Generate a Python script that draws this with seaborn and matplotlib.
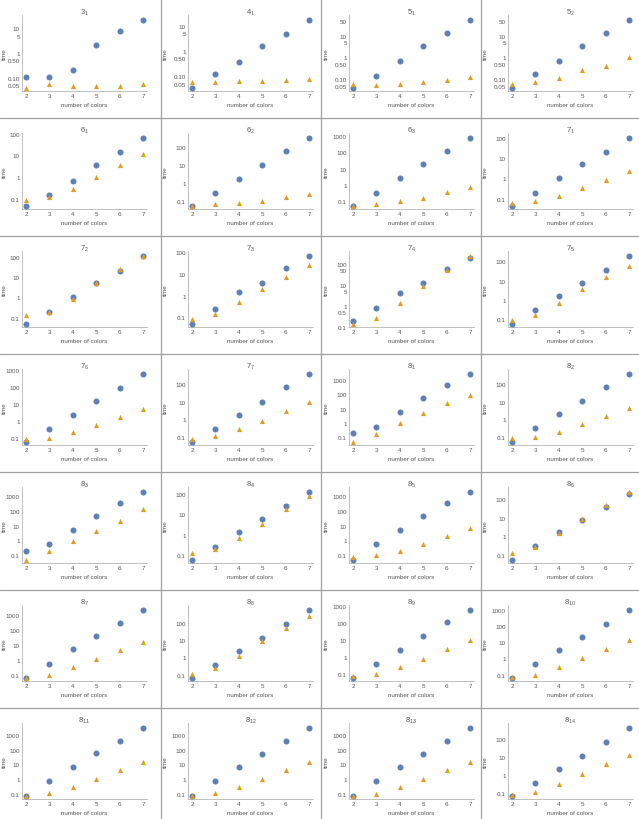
import numpy as np
import pandas as pd
import seaborn as sns
import matplotlib.pyplot as plt
from matplotlib.lines import Line2D
from matplotlib.ticker import FixedLocator, LogLocator, MultipleLocator, NullFormatter

# data: time vs number of colors, two methods per knot
colors = [2, 3, 4, 5, 6, 7]

knots = ["3_1", "4_1", "5_1", "5_2",
         "6_1", "6_2", "6_3", "7_1",
         "7_2", "7_3", "7_4", "7_5",
         "7_6", "7_7", "8_1", "8_2",
         "8_3", "8_4", "8_5", "8_6",
         "8_7", "8_8", "8_9", "8_{10}",
         "8_{11}", "8_{12}", "8_{13}", "8_{14}"]

blue_times = [
    [0.11, 0.105, 0.2, 2.2, 7.5, 22],
    [0.035, 0.12, 0.35, 1.5, 4.5, 17],
    [0.04, 0.14, 0.65, 3.5, 14, 55],
    [0.04, 0.17, 0.7, 3.5, 14, 55],
    [0.05, 0.16, 0.7, 3.5, 15, 65],
    [0.055, 0.27, 1.6, 10, 60, 320],
    [0.055, 0.33, 2.5, 18, 120, 750],
    [0.045, 0.19, 1.0, 5, 20, 100],
    [0.05, 0.2, 1.0, 5, 20, 120],
    [0.05, 0.25, 1.5, 4, 18, 70],
    [0.18, 0.8, 4, 12, 55, 200],
    [0.055, 0.3, 1.6, 7.5, 35, 200],
    [0.06, 0.35, 2.3, 14, 85, 600],
    [0.055, 0.3, 1.8, 10, 65, 380],
    [0.2, 0.55, 6, 55, 450, 2800],
    [0.055, 0.33, 2.0, 12, 70, 400],
    [0.2, 0.55, 5, 45, 320, 2000],
    [0.06, 0.26, 1.3, 6, 27, 130],
    [0.05, 0.55, 5.5, 45, 320, 2000],
    [0.055, 0.3, 1.6, 7.5, 37, 200],
    [0.07, 0.6, 5.5, 45, 320, 2400],
    [0.07, 0.38, 2.4, 14, 85, 550],
    [0.06, 0.38, 2.7, 17, 110, 600],
    [0.065, 0.42, 3.2, 22, 140, 1000],
    [0.075, 0.75, 7, 55, 380, 3000],
    [0.075, 0.7, 7, 55, 400, 3200],
    [0.075, 0.7, 7, 55, 400, 3200],
    [0.07, 0.38, 2.2, 12, 70, 450],
]

orange_times = [
    [0.04, 0.055, 0.045, 0.045, 0.045, 0.055],
    [0.06, 0.06, 0.065, 0.065, 0.07, 0.075],
    [0.06, 0.055, 0.06, 0.07, 0.09, 0.13],
    [0.06, 0.075, 0.11, 0.25, 0.4, 1.0],
    [0.09, 0.12, 0.3, 1.0, 3.5, 12],
    [0.055, 0.065, 0.075, 0.1, 0.16, 0.23],
    [0.055, 0.065, 0.1, 0.17, 0.35, 0.7],
    [0.06, 0.075, 0.14, 0.35, 0.85, 2.2],
    [0.13, 0.2, 0.85, 5, 25, 120],
    [0.085, 0.14, 0.5, 2.0, 7.5, 25],
    [0.14, 0.27, 1.4, 9, 50, 250],
    [0.085, 0.15, 0.7, 3.5, 15, 55],
    [0.08, 0.1, 0.22, 0.6, 1.7, 5],
    [0.08, 0.11, 0.27, 0.85, 2.8, 9],
    [0.05, 0.18, 1.0, 5, 25, 90],
    [0.085, 0.1, 0.2, 0.55, 1.5, 4.5],
    [0.05, 0.2, 0.9, 4.5, 20, 130],
    [0.13, 0.19, 0.7, 3.5, 18, 80],
    [0.07, 0.1, 0.2, 0.6, 2, 6.5],
    [0.12, 0.25, 1.5, 9, 50, 250],
    [0.07, 0.11, 0.35, 1.3, 5, 17],
    [0.11, 0.24, 1.3, 9, 50, 250],
    [0.075, 0.1, 0.25, 0.75, 2.8, 10],
    [0.075, 0.1, 0.3, 1.0, 4, 14],
    [0.075, 0.11, 0.3, 1.0, 4, 14],
    [0.075, 0.11, 0.3, 1.0, 4, 14],
    [0.075, 0.1, 0.3, 1.0, 4, 14],
    [0.08, 0.11, 0.33, 1.1, 4, 14],
]

small_ticks = ["0.05", "0.10", "0.50", "1", "5", "10"]
small_ticks50 = ["0.05", "0.10", "0.50", "1", "5", "10", "50"]
dec_ticks = ["0.1", "1", "10", "100"]
dec_ticks1000 = ["0.1", "1", "10", "100", "1000"]
half_ticks = ["0.1", "0.5", "1", "5", "10", "50", "100"]

ytick_labels = [
    small_ticks, small_ticks, small_ticks50, small_ticks50,
    dec_ticks, dec_ticks, dec_ticks1000, dec_ticks,
    dec_ticks, dec_ticks, half_ticks, dec_ticks,
    dec_ticks1000, dec_ticks, dec_ticks1000, dec_ticks,
    dec_ticks1000, dec_ticks, dec_ticks1000, dec_ticks,
    dec_ticks1000, dec_ticks, dec_ticks1000, dec_ticks1000,
    dec_ticks1000, dec_ticks1000, dec_ticks1000, dec_ticks,
]

blue = "#5E81B5"
orange = "#E19C24"
gray = "#555555"
axis_gray = "#b5b5b5"

sns.set_style("white")
plt.rcParams["font.family"] = ["Liberation Sans", "DejaVu Sans"]

W, H = 639, 820
fig = plt.figure(figsize=(W / 100, H / 100), dpi=100)

col_x2 = [26, 192, 353, 512]   # pixel position of x=2 in each column
label_x = [-0.125, -0.16, -0.16, -0.16]
px_unit = 23.4
xlo, xhi = 1.83, 7.17

for k, name in enumerate(knots):
    r, c = divmod(k, 4)
    left_px = col_x2[c] - (2 - xlo) * px_unit
    width_px = (xhi - xlo) * px_unit
    bottom_px = 92 + 118 * r
    height_px = 76
    ax = fig.add_axes([left_px / W, 1 - bottom_px / H, width_px / W, height_px / H])

    df = pd.DataFrame({"colors": colors, "blue": blue_times[k], "orange": orange_times[k]})
    sns.scatterplot(data=df, x="colors", y="blue", ax=ax, color=blue, marker="o",
                    s=19, linewidth=0, zorder=3)
    sns.scatterplot(data=df, x="colors", y="orange", ax=ax, color=orange, marker="^",
                    s=14, linewidth=0, zorder=4)

    ax.set_yscale("log")
    lo = min(min(blue_times[k]), min(orange_times[k]))
    hi = max(max(blue_times[k]), max(orange_times[k]))
    span = np.log10(hi / lo)
    ax.set_ylim(lo * 10 ** (-0.05 * span), hi * 10 ** (0.07 * span))
    ax.set_xlim(xlo, xhi)

    labels = ytick_labels[k]
    ax.yaxis.set_major_locator(FixedLocator([float(t) for t in labels]))
    ax.set_yticklabels(labels)
    ax.yaxis.set_minor_locator(LogLocator(base=10, subs=np.arange(2, 10)))
    ax.yaxis.set_minor_formatter(NullFormatter())
    ax.set_xticks(colors)
    ax.xaxis.set_minor_locator(MultipleLocator(0.2))

    for side in ["top", "right"]:
        ax.spines[side].set_visible(False)
    for side in ["left", "bottom"]:
        ax.spines[side].set_color(axis_gray)
        ax.spines[side].set_linewidth(0.6)

    ax.tick_params(axis="both", which="major", direction="in", length=2.0, width=0.5,
                   color=axis_gray, labelsize=4.5, labelcolor=gray, pad=1.5)
    ax.tick_params(axis="both", which="minor", direction="in", length=1.0, width=0.4,
                   color=axis_gray)

    ax.set_xlabel("number of colors", fontsize=4.5, color=gray, labelpad=3)
    ax.set_ylabel("time", fontsize=4.5, color=gray)
    ax.yaxis.set_label_coords(label_x[c], 0.5)
    ax.set_title(r"$\mathregular{" + name + "}$", fontsize=5.5, color=gray, pad=1)

# separator lines between the cells
for x in [161, 321, 481]:
    fig.add_artist(Line2D([x / W, x / W], [0, 1], color="#a0a0a0", lw=0.9))
for y in [119, 237, 355, 473, 591, 709]:
    fig.add_artist(Line2D([0, 1], [1 - y / H, 1 - y / H], color="#a0a0a0", lw=0.9))

fig.savefig("out.png", dpi=100, facecolor="white")
